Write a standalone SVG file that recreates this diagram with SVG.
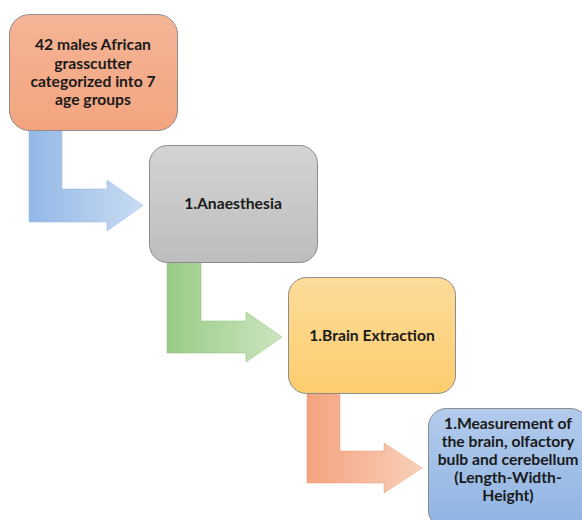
<svg xmlns="http://www.w3.org/2000/svg" width="582" height="520" viewBox="0 0 582 520">
<defs>
<linearGradient id="gOrange" x1="0" y1="0" x2="0" y2="1"><stop offset="0" stop-color="#f5b597"/><stop offset="1" stop-color="#f3a47f"/></linearGradient>
<linearGradient id="gGray" x1="0" y1="0" x2="0" y2="1"><stop offset="0" stop-color="#d4d4d4"/><stop offset="1" stop-color="#bdbdbd"/></linearGradient>
<linearGradient id="gYellow" x1="0" y1="0" x2="0" y2="1"><stop offset="0" stop-color="#fddc9a"/><stop offset="1" stop-color="#fccd6e"/></linearGradient>
<linearGradient id="gBlue" x1="0" y1="0" x2="0" y2="1"><stop offset="0" stop-color="#b2cbec"/><stop offset="1" stop-color="#8fb3e2"/></linearGradient>
<linearGradient id="aBlue" x1="0" y1="0" x2="1" y2="0"><stop offset="0" stop-color="#93b8e6"/><stop offset="1" stop-color="#c9dcf3"/></linearGradient>
<linearGradient id="aGreen" x1="0" y1="0" x2="1" y2="0"><stop offset="0" stop-color="#9acc86"/><stop offset="1" stop-color="#cbe5bf"/></linearGradient>
<linearGradient id="aOrange" x1="0" y1="0" x2="1" y2="0"><stop offset="0" stop-color="#f4a37f"/><stop offset="1" stop-color="#f9d0b9"/></linearGradient>
</defs>
<style>
.box{stroke:#8c8c8c;stroke-width:1}
.arrow{stroke-width:1;stroke-opacity:0.5}
text{font-family:"Lato","Liberation Sans",sans-serif;font-weight:bold;font-size:15.7px;fill:#1a1a1a;text-anchor:middle}
</style>
<g id="connectors">
<path class="arrow" fill="url(#aBlue)" stroke="#8fb4e3" d="M29,130 H62 V189 H107 V180 L143,205.5 L107,231 V222 H29 Z"/>
<path class="arrow" fill="url(#aGreen)" stroke="#8cc276" d="M167,262 H201 V321 H246 V312 L282,337 L246,362 V353 H167 Z"/>
<path class="arrow" fill="url(#aOrange)" stroke="#f29a74" d="M307,393 H340 V451 H384 V443 L422,468 L384,493 V483 H307 Z"/>
</g>
<g id="node1">
<rect class="box" x="9.5" y="14.5" width="168" height="116" rx="20" fill="url(#gOrange)"/>
<text x="93" y="50">42 males African</text>
<text x="93" y="68.5">grasscutter</text>
<text x="93" y="87">categorized into 7</text>
<text x="93" y="105">age groups</text>
</g>
<g id="node2">
<rect class="box" x="149.5" y="145.5" width="168" height="117" rx="18" fill="url(#gGray)"/>
<text x="233" y="209">1.Anaesthesia</text>
</g>
<g id="node3">
<rect class="box" x="288.5" y="277.5" width="167" height="116" rx="18" fill="url(#gYellow)"/>
<text x="372" y="341">1.Brain Extraction</text>
</g>
<g id="node4">
<rect class="box" x="428.5" y="408.5" width="160" height="120" rx="18" fill="url(#gBlue)"/>
<text x="508" y="428.5">1.Measurement of</text>
<text x="508" y="446.5">the brain, olfactory</text>
<text x="508" y="464.5">bulb and cerebellum</text>
<text x="508" y="482.5">(Length-Width-</text>
<text x="508" y="500.5">Height)</text>
</g>
</svg>
